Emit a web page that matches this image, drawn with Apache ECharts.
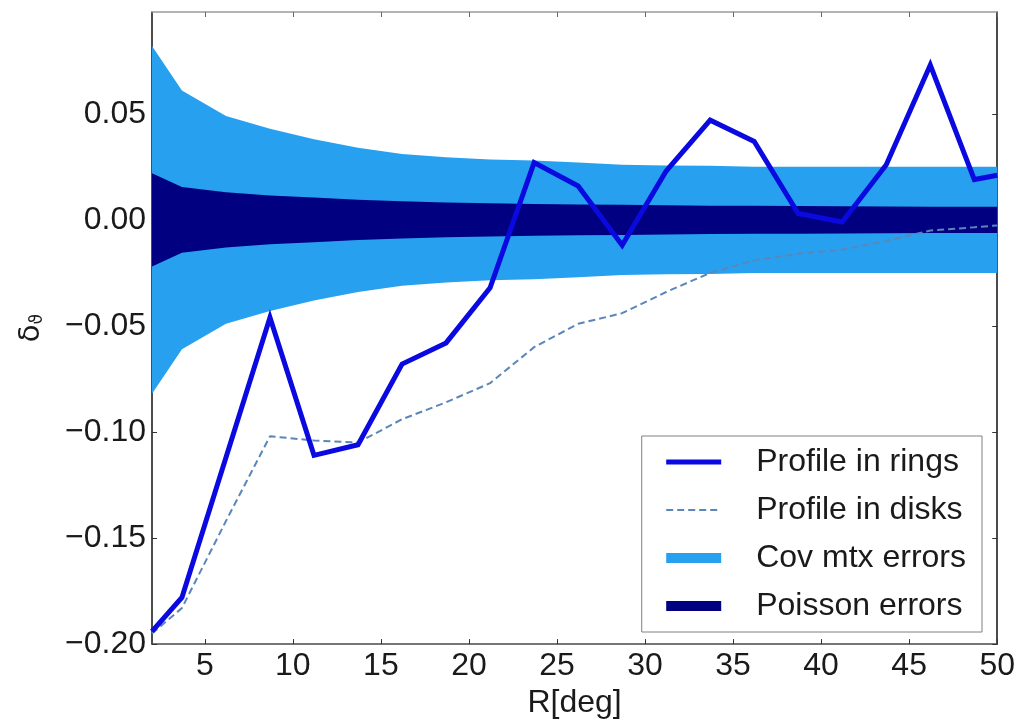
<!DOCTYPE html>
<html>
<head>
<meta charset="utf-8">
<script src="https://cdn.jsdelivr.net/npm/echarts@6/dist/echarts.min.js"></script>
<style>
html,body{margin:0;padding:0;background:#fff;}
#chart{width:1018px;height:724px;}
</style>
</head>
<body>
<div id="chart"></div>
<script>
// ---- data ----
const radius = [2, 3.7, 6.2, 8.7, 11.2, 13.7, 16.2, 18.7, 21.2, 23.7, 26.2, 28.7, 31.2, 33.7, 36.2, 38.7, 41.2, 43.7, 46.2, 48.7, 50];
const profileRings = [-0.194, -0.178, -0.112, -0.046, -0.111, -0.106, -0.068, -0.058, -0.032, 0.027, 0.016, -0.012, 0.023, 0.047, 0.037, 0.003, -0.001, 0.026, 0.073, 0.019, 0.021];
const profileDisks = [-0.195, -0.183, -0.142, -0.102, -0.104, -0.105, -0.094, -0.086, -0.077, -0.060, -0.049, -0.044, -0.034, -0.025, -0.019, -0.016, -0.014, -0.010, -0.005, -0.0035, -0.0026];
const covErrors = [0.082, 0.061, 0.049, 0.043, 0.038, 0.034, 0.031, 0.0295, 0.0285, 0.028, 0.027, 0.026, 0.0256, 0.0255, 0.025, 0.025, 0.025, 0.025, 0.025, 0.025, 0.025];
const poissonErrors = [0.022, 0.0155, 0.013, 0.0115, 0.0105, 0.0095, 0.0088, 0.0082, 0.0078, 0.0075, 0.0073, 0.0071, 0.0069, 0.0067, 0.0066, 0.0065, 0.0064, 0.0063, 0.0062, 0.0062, 0.0062];
const xTicks = [5, 10, 15, 20, 25, 30, 35, 40, 45, 50];
const yTicks = [-0.20, -0.15, -0.10, -0.05, 0.00, 0.05];
const seriesNames = ['Profile in rings', 'Profile in disks', 'Cov mtx errors', 'Poisson errors'];

const FONT = 'Liberation Sans';
const FS = 32;
const X_MIN = 2, X_MAX = 50, Y_MIN = -0.2, Y_MAX = 0.098;

function bandSeries(name, errs, color, z) {
  return {
    type: 'custom',
    name: name,
    z: z,
    silent: true,
    itemStyle: { color: color },
    data: [[radius[0], 0]],
    renderItem: function (params, api) {
      const pts = [];
      for (let i = 0; i < radius.length; i++) pts.push(api.coord([radius[i], errs[i]]));
      for (let i = radius.length - 1; i >= 0; i--) pts.push(api.coord([radius[i], -errs[i]]));
      return { type: 'polygon', shape: { points: pts }, style: { fill: color } };
    }
  };
}

const fmtY = v => (v < 0 ? '\u2212' : '') + Math.abs(v).toFixed(2);
const hiddenSymbol = { color: 'rgba(0,0,0,0)', borderColor: 'rgba(0,0,0,0)', borderWidth: 0, opacity: 0 };

const chart = echarts.init(document.getElementById('chart'), null, { renderer: 'canvas' });
chart.setOption({
  animation: false,
  backgroundColor: '#ffffff',
  textStyle: { fontFamily: FONT },
  grid: { left: 152, right: 20, top: 12, bottom: 75 },
  legend: {
    orient: 'vertical',
    right: 36,
    bottom: 92,
    padding: [9, 16, 9, 22],
    itemGap: 14,
    itemWidth: 55,
    itemHeight: 10,
    borderColor: '#808080',
    borderWidth: 1,
    backgroundColor: '#ffffff',
    selectedMode: false,
    textStyle: { fontFamily: FONT, fontSize: FS, color: '#1a1a1a', lineHeight: 34,
      rich: { s: { width: 30 } } },
    formatter: name => '{s|\u00a0}' + name,
    data: [
      { name: seriesNames[0], itemStyle: hiddenSymbol, lineStyle: { width: 5 } },
      { name: seriesNames[1], itemStyle: hiddenSymbol, lineStyle: { width: 2 } },
      { name: seriesNames[2], icon: 'rect' },
      { name: seriesNames[3], icon: 'rect' }
    ]
  },
  xAxis: [{
    type: 'value', min: X_MIN, max: X_MAX, position: 'bottom',
    name: 'R[deg]', nameLocation: 'middle', nameGap: 35,
    nameTextStyle: { fontFamily: FONT, fontSize: FS, color: '#1a1a1a' },
    axisLine: { onZero: false, lineStyle: { color: '#4a4a4a', width: 1.5 } },
    axisTick: { inside: true, length: 5, customValues: xTicks, lineStyle: { color: '#333' } },
    axisLabel: { customValues: xTicks, margin: 6, fontFamily: FONT, fontSize: FS, color: '#1a1a1a' },
    splitLine: { show: false }
  }, {
    type: 'value', min: X_MIN, max: X_MAX, position: 'top',
    axisLine: { onZero: false, lineStyle: { color: '#9a9a9a', width: 1.5 } },
    axisTick: { inside: true, length: 5, customValues: xTicks, lineStyle: { color: '#666' } },
    axisLabel: { show: false },
    splitLine: { show: false }
  }],
  yAxis: [{
    type: 'value', min: Y_MIN, max: Y_MAX, position: 'left',
    name: '{d|\u03b4}{s|\u03d1}', nameLocation: 'middle', nameGap: 106,
    nameTextStyle: { fontFamily: FONT, color: '#1a1a1a',
      rich: {
        d: { fontSize: 29, fontFamily: 'DejaVu Sans', verticalAlign: 'bottom', lineHeight: 32 },
        s: { fontSize: 17, fontFamily: 'DejaVu Sans', verticalAlign: 'bottom', lineHeight: 16 }
      } },
    axisLine: { onZero: false, lineStyle: { color: '#111', width: 1.5 } },
    axisTick: { inside: true, length: 5, customValues: yTicks, lineStyle: { color: '#333' } },
    axisLabel: { customValues: yTicks, formatter: fmtY, margin: 6, fontFamily: FONT, fontSize: FS, color: '#1a1a1a' },
    splitLine: { show: false }
  }, {
    type: 'value', min: Y_MIN, max: Y_MAX, position: 'right',
    axisLine: { onZero: false, lineStyle: { color: '#111', width: 1.5 } },
    axisTick: { inside: true, length: 5, customValues: yTicks, lineStyle: { color: '#333' } },
    axisLabel: { show: false },
    splitLine: { show: false }
  }],
  series: [
    bandSeries(seriesNames[2], covErrors, '#28a0f0', 1),
    bandSeries(seriesNames[3], poissonErrors, '#000080', 2),
    {
      type: 'line', name: seriesNames[1], z: 3, symbol: 'none', silent: true,
      data: radius.map((r, i) => [r, profileDisks[i]]),
      lineStyle: { color: '#5b86b8', width: 2, type: [7, 4] }
    },
    {
      type: 'line', name: seriesNames[0], z: 4, symbol: 'none', silent: true,
      data: radius.map((r, i) => [r, profileRings[i]]),
      lineStyle: { color: '#0a0ae0', width: 5, join: 'miter' }
    }
  ]
});
</script>
</body>
</html>
